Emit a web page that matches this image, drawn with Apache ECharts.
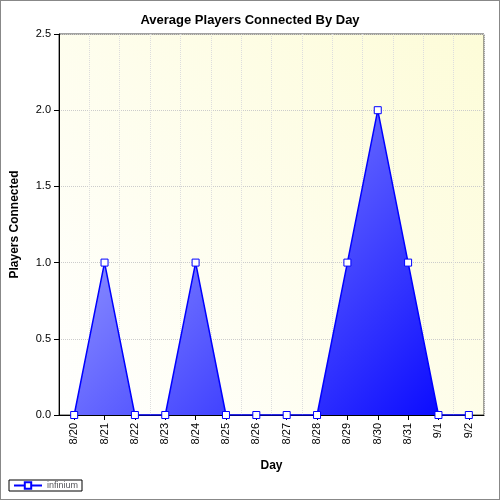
<!DOCTYPE html><html><head><meta charset="utf-8"><script src="https://cdn.jsdelivr.net/npm/echarts@6/dist/echarts.min.js"></script>
<style>body{margin:0}#c{width:500px;height:500px;box-sizing:border-box;border:1px solid #888}</style></head><body><div id="c"></div><script>
const days=['8/20','8/21','8/22','8/23','8/24','8/25','8/26','8/27','8/28','8/29','8/30','8/31','9/1','9/2'];
const players=[0,1,0,0,1,0,0,0,0,1,2,1,0,0];
const c=echarts.init(document.getElementById('c'));
c.setOption({
animation:false,backgroundColor:'#fff',
title:{text:'Average Players Connected By Day',left:'center',top:8,textStyle:{fontSize:13,fontWeight:'bold',fontFamily:'Liberation Sans',color:'#000'}},
legend:{left:8,bottom:8,itemWidth:28,itemHeight:8,borderColor:'#000',borderWidth:1,borderRadius:0,padding:[1,4],textStyle:{fontSize:9,fontFamily:'Liberation Sans'},data:['infinium']},
grid:{left:57,right:15,top:33,bottom:84,backgroundColor:new echarts.graphic.LinearGradient(0,1,1,0,[{offset:0,color:'#ffffff'},{offset:1,color:'#fdfcd8'}]),show:true,borderColor:'#444',borderWidth:1},
xAxis:{type:'category',data:days,name:'Day',nameLocation:'middle',nameGap:45,nameTextStyle:{fontWeight:'bold',fontSize:12,fontFamily:'Liberation Sans',color:'#000'},
axisLabel:{rotate:90,fontSize:11,fontFamily:'Liberation Sans',color:'#000',interval:0},axisTick:{show:true,alignWithLabel:true,lineStyle:{color:'#000'}},axisLine:{lineStyle:{color:'#000'}},splitLine:{show:true,interval:0,lineStyle:{type:'dotted',color:'#ddd'}}},
yAxis:{type:'value',min:0,max:2.5,interval:0.5,name:'Players Connected',nameLocation:'middle',nameGap:38,nameTextStyle:{fontWeight:'bold',fontSize:12,fontFamily:'Liberation Sans',color:'#000'},
axisLabel:{formatter:v=>v.toFixed(1),fontSize:11,fontFamily:'Liberation Sans',color:'#000'},axisLine:{show:true,lineStyle:{color:'#000'}},axisTick:{show:true},splitLine:{lineStyle:{type:'dotted',color:'#ccc'}}},
series:[{name:'infinium',type:'line',data:players,symbol:'rect',symbolSize:7,
itemStyle:{color:'#fff',borderColor:'#0000ff',borderWidth:1},lineStyle:{color:'#0000ff',width:1.5},
areaStyle:{opacity:1,color:new echarts.graphic.LinearGradient(58,33,484,415,[{offset:0,color:'#c0c4ff'},{offset:1,color:'#0000ff'}],true)}}]
});
</script></body></html>
